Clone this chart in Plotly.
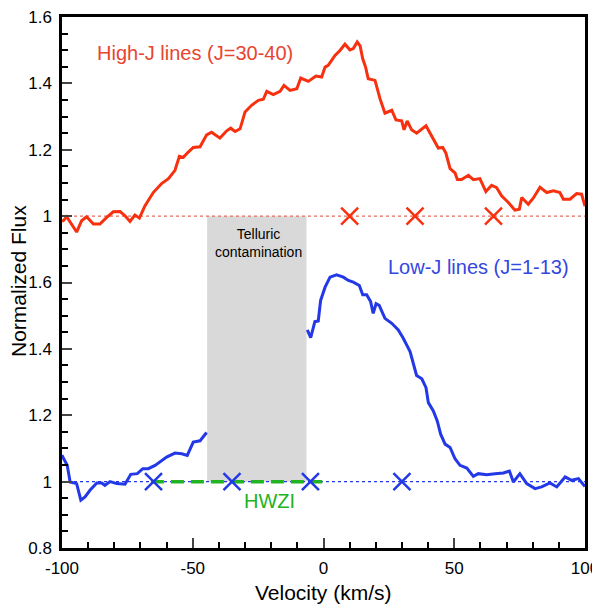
"""Normalized flux profiles, high-J and low-J lines"""
import plotly.graph_objects as go

# velocities in km/s, flux normalized to continuum
high_j_vel = [-100, -99.5, -98.2, -96.3, -94.4, -92.5, -90.6, -88, -85.5, -82.9,
              -80.4, -77.8, -75.9, -74, -72.1, -70.4, -68.3, -65.1, -61.9, -59.3,
              -56.8, -55.1, -53.6, -51.7, -49.8, -47.2, -44.7, -42.8, -39.6, -37,
              -35.5, -33.8, -31.9, -30, -27.5, -24.9, -23, -21.7, -19.2, -16.6,
              -15.1, -12.8, -10.2, -8.7, -5.8, -2.9, -0.7, 0.6, 1.8, 4.4,
              6.3, 8.2, 10.1, 11.4, 12.9, 14, 15, 16.1, 17.1, 19.7,
              21.6, 23.5, 26.1, 27.7, 29.9, 30.8, 32, 33.7, 35.6, 39.2,
              41.8, 43.9, 45.6, 46.8, 48.4, 50.3, 51.2, 52.8, 55.4, 57.3,
              59.8, 62.1, 64.3, 66.2, 68.1, 70.7, 73.2, 74.9, 75.8, 77,
              78.3, 80.2, 82.8, 85.4, 87.9, 90.4, 91.7, 94.3, 96.8, 98.7,
              99.6, 100]
high_j_flux = [0.985, 0.986, 0.998, 0.976, 0.952, 0.986, 0.998, 0.976, 0.976, 0.996,
               1.013, 1.014, 1.001, 0.984, 1.003, 0.994, 1.031, 1.071, 1.098, 1.113,
               1.138, 1.180, 1.177, 1.193, 1.207, 1.209, 1.245, 1.253, 1.235, 1.257,
               1.265, 1.255, 1.263, 1.314, 1.334, 1.349, 1.352, 1.376, 1.366, 1.376,
               1.394, 1.379, 1.384, 1.416, 1.406, 1.422, 1.419, 1.449, 1.454, 1.484,
               1.499, 1.518, 1.501, 1.505, 1.525, 1.513, 1.474, 1.449, 1.414, 1.409,
               1.354, 1.310, 1.319, 1.290, 1.287, 1.260, 1.287, 1.260, 1.250, 1.272,
               1.235, 1.205, 1.207, 1.190, 1.143, 1.130, 1.110, 1.110, 1.123, 1.110,
               1.113, 1.074, 1.093, 1.086, 1.061, 1.041, 1.018, 1.021, 1.056, 1.046,
               1.036, 1.054, 1.087, 1.071, 1.076, 1.071, 1.051, 1.051, 1.068, 1.066,
               1.036, 1.030]

# low-J, blue side (before telluric gap)
low_j_vel_a = [-100, -99.7, -98, -96.9, -94.4, -92.8, -91.2, -89.3, -86.7, -84.8,
               -83.6, -81.6, -79.1, -75.9, -73.7, -71.2, -69.1, -67, -64.4, -61.9,
               -60, -56.8, -54.2, -52.1, -49.8, -47.2, -44.7]
low_j_flux_a = [1.08, 1.074, 1.049, 0.999, 0.994, 0.944, 0.954, 0.974, 0.996, 0.996,
                0.989, 1.0, 0.994, 0.992, 1.022, 1.024, 1.039, 1.039, 1.049, 1.062,
                1.074, 1.086, 1.084, 1.079, 1.119, 1.123, 1.148]
# low-J, red side (after telluric gap)
low_j_vel_b = [-6.2, -4.9, -3.3, -2, -1.1, 0.6, 2.5, 5, 7.6, 9.5,
               11.4, 13.7, 15, 16.5, 18, 19, 20.1, 21.3, 23.5, 26.1,
               28.6, 30.5, 33.1, 34.6, 35.6, 37.6, 39.2, 40.1, 42, 43.5,
               44.8, 46.5, 48.4, 50.3, 52.2, 54.8, 57.3, 59.2, 62.4, 65.6,
               68.8, 71.1, 72.6, 75.1, 77.7, 80.9, 83.4, 86.6, 89.2, 92.4,
               94.9, 97.5, 99.4, 100]
low_j_flux_b = [1.457, 1.434, 1.482, 1.484, 1.546, 1.586, 1.616, 1.623, 1.616, 1.606,
                1.601, 1.591, 1.563, 1.563, 1.543, 1.507, 1.536, 1.531, 1.492, 1.477,
                1.457, 1.432, 1.392, 1.352, 1.320, 1.310, 1.283, 1.238, 1.213, 1.183,
                1.143, 1.113, 1.103, 1.069, 1.049, 1.041, 1.016, 1.024, 1.021, 1.024,
                1.026, 1.032, 0.999, 1.024, 0.994, 0.979, 0.984, 0.996, 0.984, 1.014,
                1.004, 1.009, 0.989, 0.985]

high_j_marks = [10, 35, 65]
low_j_marks = [-65, -35, -5, 30]
hwzi_range = [-66, -0.5]
telluric_range = [-44.5, -6.5]

OFFSET = 0.8  # vertical shift of the high-J spectrum
y_tickvals = [0.8, 1.0, 1.2, 1.4, 1.6, 1.8, 2.0, 2.2, 2.4]
y_ticktext = ['0.8', '1', '1.2', '1.4', '1.6', '1', '1.2', '1.4', '1.6']
x_tickvals = [-100, -50, 0, 50, 100]
x_ticktext = ['-100', '-50', '0', '50', '100']

RED = '#f7300f'
BLUE = '#2338e6'
GREEN = '#22b322'
FONT = 'Liberation Sans, Arial, sans-serif'

fig = go.Figure()

# telluric box
fig.add_shape(type='rect', x0=telluric_range[0], x1=telluric_range[1],
              y0=1.0, y1=1.0 + OFFSET, fillcolor='#d9d9d9', line_width=0, layer='below')

# continuum levels
fig.add_trace(go.Scatter(x=[-100, 100], y=[1 + OFFSET, 1 + OFFSET], mode='lines',
                         line=dict(color='#e86a5a', width=1.3, dash='dot')))
fig.add_trace(go.Scatter(x=[-100, 100], y=[1, 1], mode='lines',
                         line=dict(color=BLUE, width=1.2, dash='dot')))

fig.add_trace(go.Scatter(x=hwzi_range, y=[1, 1], mode='lines',
                         line=dict(color=GREEN, width=3.5, dash='13px,7px')))

fig.add_trace(go.Scatter(x=high_j_vel, y=[f + OFFSET for f in high_j_flux], mode='lines',
                         line=dict(color=RED, width=3)))
fig.add_trace(go.Scatter(x=low_j_vel_a + [None] + low_j_vel_b,
                         y=low_j_flux_a + [None] + low_j_flux_b, mode='lines',
                         line=dict(color=BLUE, width=3)))

fig.add_trace(go.Scatter(x=high_j_marks, y=[1 + OFFSET] * len(high_j_marks), mode='markers',
                         marker=dict(symbol='x-thin-open', size=17, color=RED,
                                     line=dict(color=RED, width=2.5))))
fig.add_trace(go.Scatter(x=low_j_marks, y=[1] * len(low_j_marks), mode='markers',
                         marker=dict(symbol='x-thin-open', size=17, color=BLUE,
                                     line=dict(color=BLUE, width=2.5))))

fig.add_annotation(x=-49.1, y=2.293, text='High-J lines (J=30-40)', showarrow=False,
                   font=dict(size=20, color='#e8442f', family=FONT))
fig.add_annotation(x=94.6, y=1.648, text='Low-J lines (J=1-13)', showarrow=False, xanchor='right',
                   font=dict(size=20, color='#3447e0', family=FONT))
fig.add_annotation(x=-25, y=1.718, text='Telluric<br>contamination', showarrow=False,
                   font=dict(size=14, color='black', family=FONT))
fig.add_annotation(x=-20.5, y=0.943, text='HWZI', showarrow=False,
                   font=dict(size=20, color=GREEN, family=FONT))
fig.add_annotation(x=0.5, y=-0.0847, xref='paper', yref='paper', text='Velocity (km/s)',
                   xanchor='center', yanchor='middle',
                   showarrow=False, font=dict(size=21, color='black', family=FONT))
fig.add_annotation(x=-0.083, y=0.502, xref='paper', yref='paper', text='Normalized Flux',
                   xanchor='center', yanchor='middle',
                   showarrow=False, textangle=-90, font=dict(size=21, color='black', family=FONT))

# page body adds an 8px margin, margins below are shifted by that amount
fig.update_layout(width=600, height=606, showlegend=False,
                  margin=dict(l=54, r=23, t=9, b=66),
                  plot_bgcolor='white', paper_bgcolor='white',
                  font=dict(family=FONT, size=17, color='black'))
fig.update_xaxes(range=[-100, 100], tickvals=x_tickvals, ticktext=x_ticktext,
                 ticks='inside', ticklen=10, tickwidth=2,
                 minor=dict(dtick=10, ticks='inside', ticklen=6, tickwidth=1.5, tickcolor='black'),
                 showgrid=False, zeroline=False, showline=True, linewidth=2.5, linecolor='black',
                 mirror=True, automargin=False, ticklabelstandoff=3, ticklabeloverflow='allow',
                 tickfont=dict(size=17))
fig.update_yaxes(range=[0.8, 2.4], tickvals=y_tickvals, ticktext=y_ticktext, ticks='inside',
                 ticklen=10, tickwidth=2,
                 minor=dict(dtick=0.05, ticks='inside', ticklen=6, tickwidth=1.5, tickcolor='black'),
                 showgrid=False, zeroline=False, showline=True, linewidth=2.5, linecolor='black',
                 mirror=True, automargin=False, ticklabelstandoff=4, ticklabeloverflow='allow',
                 tickfont=dict(size=17))

fig.write_html("out.html")
